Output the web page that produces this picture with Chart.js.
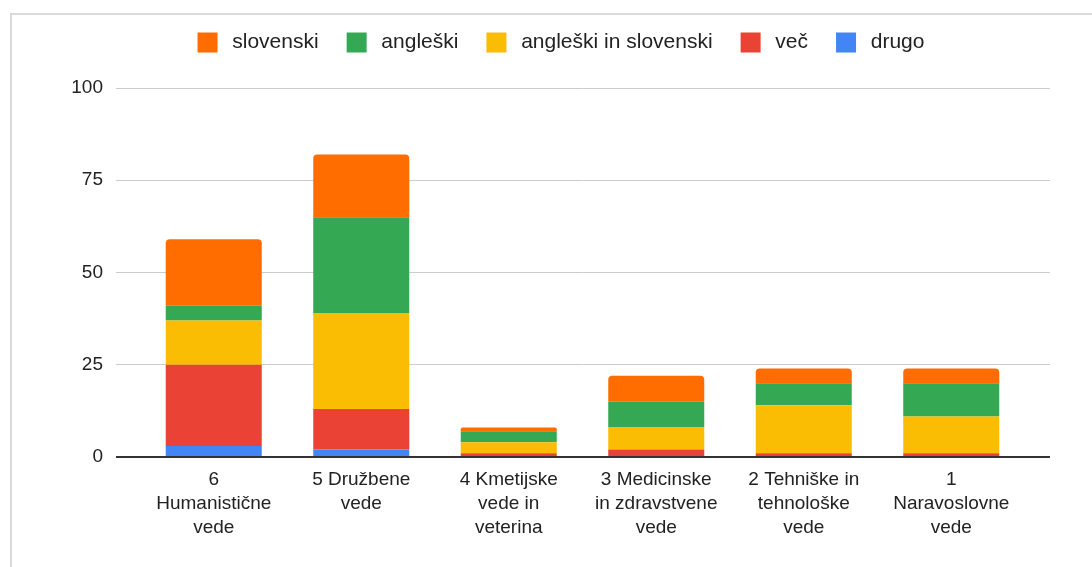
<!DOCTYPE html>
<html>
<head>
<meta charset="utf-8">
<script src="https://cdn.jsdelivr.net/npm/chart.js@4"></script>
<style>
  html, body { margin: 0; padding: 0; background: #fff; overflow: hidden; width: 1092px; height: 567px; }
  #frame { position: absolute; left: 10px; top: 13px; width: 1100px; height: 570px; border: 2px solid #dadada; box-sizing: border-box; }
  #wrap { position: absolute; left: 11px; top: 14px; width: 1100px; height: 560px; }
</style>
</head>
<body>
<div id="frame"></div>
<div id="wrap"><canvas id="chart"></canvas></div>
<script>
const categories = [
    ['6', 'Humanistične', 'vede'],
    ['5 Družbene', 'vede'],
    ['4 Kmetijske', 'vede in', 'veterina'],
    ['3 Medicinske', 'in zdravstvene', 'vede'],
    ['2 Tehniške in', 'tehnološke', 'vede'],
    ['1', 'Naravoslovne', 'vede']
];
const drugo = [3, 2, 0, 0, 0, 0];
const vec = [22, 11, 1, 2, 1, 1];
const angInSlo = [12, 26, 3, 6, 13, 10];
const angleski = [4, 26, 3, 7, 6, 9];
const slovenski = [18, 17, 1, 7, 4, 4];
const yTicks = [0, 25, 50, 75, 100];

const font = 'Arial, "Liberation Sans", sans-serif';

// stacking order: first dataset at the bottom
const datasets = [
    { label: 'drugo', data: drugo, backgroundColor: '#4285f4' },
    { label: 'več', data: vec, backgroundColor: '#ea4335' },
    { label: 'angleški in slovenski', data: angInSlo, backgroundColor: '#fbbc04' },
    { label: 'angleški', data: angleski, backgroundColor: '#34a853' },
    { label: 'slovenski', data: slovenski, backgroundColor: '#ff6d01',
      borderRadius: { topLeft: 4, topRight: 4, bottomLeft: 0, bottomRight: 0 }, borderSkipped: false }
];
datasets.forEach(d => {
    d.categoryPercentage = 1;
    d.barPercentage = 0.651;
    d.borderWidth = 0;
});

const gridColor = ctx => (ctx.tick && ctx.tick.value === 0) ? '#333' : '#cccccc';
const gridWidth = ctx => (ctx.tick && ctx.tick.value === 0) ? 2 : 1;
const setTicks = s => { s.ticks = yTicks.map(v => ({ value: v })); };

// fixed legend height so the plot starts where the reference does
const legendHeight = {
    id: 'legendHeight',
    beforeInit(chart) {
        const fit = chart.legend.fit;
        chart.legend.fit = function () {
            fit.call(this);
            this.height = 74;
        };
    }
};

new Chart(document.getElementById('chart'), {
    type: 'bar',
    data: { labels: categories, datasets },
    plugins: [legendHeight],
    options: {
        responsive: true,
        maintainAspectRatio: false,
        animation: false,
        layout: { padding: { top: 0, right: 0, left: 0, bottom: 0 } },
        plugins: {
            tooltip: { enabled: false },
            legend: {
                position: 'top',
                reverse: true,
                labels: {
                    boxWidth: 20,
                    boxHeight: 20,
                    padding: 18,
                    color: '#222',
                    font: { family: font, size: 21 },
                    generateLabels: chart => {
                        const items = Chart.defaults.plugins.legend.labels.generateLabels(chart);
                        // items come in dataset order; 'drugo' (index 0) is shown last
                        items.forEach((it, i) => {
                            it.text = '\u2009' + it.text + (i === 0 ? '' : ' \u2009');
                        });
                        return items;
                    }
                }
            }
        },
        scales: {
            x: {
                stacked: true,
                grid: { display: false },
                border: { display: false },
                ticks: { color: '#222', padding: 3, maxRotation: 0, autoSkip: false,
                         font: { family: font, size: 19, lineHeight: 1.25 } },
                afterFit: s => { s.height = 117; }
            },
            y: {
                stacked: true,
                min: 0,
                max: 100,
                afterBuildTicks: setTicks,
                grid: { color: gridColor, lineWidth: gridWidth, drawTicks: true, tickLength: 24 },
                border: { display: false },
                ticks: { color: '#222', padding: 13, font: { family: font, size: 19 } },
                afterFit: s => { s.width = 129; }
            },
            y2: {
                position: 'right',
                min: 0,
                max: 100,
                afterBuildTicks: setTicks,
                grid: { color: gridColor, lineWidth: gridWidth, drawOnChartArea: false, drawTicks: true, tickLength: 25 },
                border: { display: false },
                ticks: { display: false },
                afterFit: s => { s.width = 86; }
            }
        }
    }
});
</script>
</body>
</html>
